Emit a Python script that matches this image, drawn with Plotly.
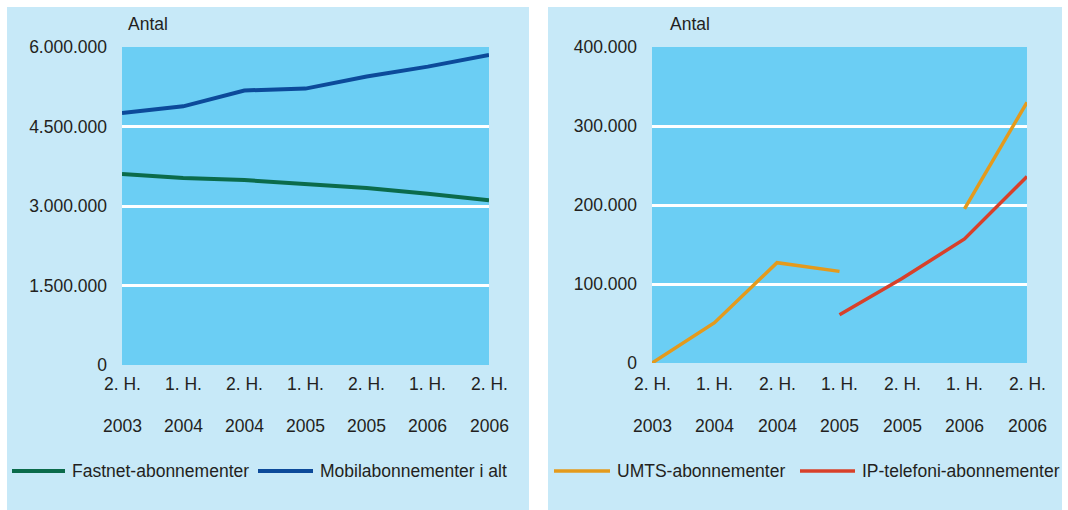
import plotly.graph_objects as go

W, H = 1068, 510

categories = ["2. H. 2003", "1. H. 2004", "2. H. 2004", "1. H. 2005", "2. H. 2005", "1. H. 2006", "2. H. 2006"]
half_labels = ["2. H.", "1. H.", "2. H.", "1. H.", "2. H.", "1. H.", "2. H."]
year_labels = ["2003", "2004", "2004", "2005", "2005", "2006", "2006"]

fastnet = [3604000, 3530000, 3490000, 3415000, 3340000, 3230000, 3110000]
mobil = [4755000, 4880000, 5180000, 5215000, 5445000, 5630000, 5850000]
umts = [0, 51000, 127000, 116000, None, 195000, 330000]
ip_tel = [None, None, None, 61000, 107000, 157000, 236000]

left_ticks = [0, 1500000, 3000000, 4500000, 6000000]
left_ticktext = ["0", "1.500.000", "3.000.000", "4.500.000", "6.000.000"]
right_ticks = [0, 100000, 200000, 300000, 400000]
right_ticktext = ["0", "100.000", "200.000", "300.000", "400.000"]

C_FAST = "#0B6B4B"
C_MOB = "#0C4A9A"
C_UMTS = "#E49A1C"
C_IP = "#D8402A"
PANEL = "#C7E9F8"
PLOTBG = "#6BCEF4"
TXT = "#231F20"
FONT = "Liberation Sans"
FS = 17.5

xs = list(range(len(categories)))

def px_x(p):
    return p / W

def px_y(p):
    return 1 - p / H

fig = go.Figure()
fig.add_trace(go.Scatter(x=xs, y=fastnet, mode="lines", name="Fastnet-abonnementer",
                         line=dict(color=C_FAST, width=4), xaxis="x", yaxis="y"))
fig.add_trace(go.Scatter(x=xs, y=mobil, mode="lines", name="Mobilabonnementer i alt",
                         line=dict(color=C_MOB, width=4), xaxis="x", yaxis="y"))
fig.add_trace(go.Scatter(x=xs, y=umts, mode="lines", name="UMTS-abonnementer",
                         line=dict(color=C_UMTS, width=3.5), connectgaps=False, xaxis="x2", yaxis="y2"))
fig.add_trace(go.Scatter(x=xs, y=ip_tel, mode="lines", name="IP-telefoni-abonnementer",
                         line=dict(color=C_IP, width=3.5), connectgaps=False, xaxis="x2", yaxis="y2"))

ax_common = dict(showline=False, zeroline=False, fixedrange=True, automargin=False)

fig.update_layout(
    width=W, height=H,
    margin=dict(l=0, r=0, t=0, b=0, pad=0, autoexpand=False),
    paper_bgcolor=PANEL,
    plot_bgcolor=PLOTBG,
    showlegend=False,
    font=dict(family=FONT, size=FS, color=TXT),
    xaxis=dict(domain=[px_x(122), px_x(489)], range=[0, 6], showgrid=False,
               showticklabels=False, anchor="y", **ax_common),
    yaxis=dict(domain=[px_y(365), px_y(47)], range=[0, 6000000], tickvals=left_ticks,
               ticktext=left_ticktext, showgrid=True, gridcolor="white", gridwidth=2.5,
               ticklabelstandoff=14, anchor="x", tickfont=dict(size=FS, color=TXT), **ax_common),
    xaxis2=dict(domain=[px_x(652), px_x(1027)], range=[0, 6], showgrid=False,
                showticklabels=False, anchor="y2", **ax_common),
    yaxis2=dict(domain=[px_y(363), px_y(47)], range=[0, 400000], tickvals=right_ticks,
                ticktext=right_ticktext, showgrid=True, gridcolor="white", gridwidth=2.5,
                ticklabelstandoff=14, anchor="x2", tickfont=dict(size=FS, color=TXT), **ax_common),
)

# white gutters around / between the two light-blue panels
white = dict(type="rect", xref="paper", yref="paper", fillcolor="white", line=dict(width=0), layer="below")
shapes = [
    dict(white, x0=0, x1=1, y0=px_y(7), y1=1),
    dict(white, x0=0, x1=px_x(7), y0=0, y1=1),
    dict(white, x0=px_x(529), x1=px_x(548), y0=0, y1=1),
    dict(white, x0=px_x(1062), x1=1, y0=0, y1=1),
]

annotations = []
for xa in ["x", "x2"]:
    for i, (h, yl) in enumerate(zip(half_labels, year_labels)):
        annotations.append(dict(x=i, xref=xa, y=px_y(384), yref="paper", text=h, showarrow=False,
                                xanchor="center", yanchor="middle", font=dict(size=FS, color=TXT)))
        annotations.append(dict(x=i, xref=xa, y=px_y(426), yref="paper", text=yl, showarrow=False,
                                xanchor="center", yanchor="middle", font=dict(size=FS, color=TXT)))

annotations.append(dict(x=px_x(126), y=px_y(24), xref="paper", yref="paper", text="Antal", showarrow=False,
                        xanchor="left", yanchor="middle", font=dict(size=FS, color=TXT)))
annotations.append(dict(x=px_x(668), y=px_y(24), xref="paper", yref="paper", text="Antal", showarrow=False,
                        xanchor="left", yanchor="middle", font=dict(size=FS, color=TXT)))

legend_items = [
    ("Fastnet-abonnementer", C_FAST, 12, 65, 4),
    ("Mobilabonnementer i alt", C_MOB, 258, 313, 4),
    ("UMTS-abonnementer", C_UMTS, 554, 610, 3.5),
    ("IP-telefoni-abonnementer", C_IP, 800, 855, 3.5),
]
for name, col, x0, x1, w in legend_items:
    shapes.append(dict(type="line", xref="paper", yref="paper", x0=px_x(x0), x1=px_x(x1),
                       y0=px_y(471), y1=px_y(471), line=dict(color=col, width=w)))
    annotations.append(dict(x=px_x(x1 + 5), y=px_y(471), xref="paper", yref="paper", text=name,
                            showarrow=False, xanchor="left", yanchor="middle",
                            font=dict(size=FS, color=TXT)))

fig.update_layout(shapes=shapes, annotations=annotations)

post = ("var gd=document.getElementById('{plot_id}');"
        "document.body.style.margin='0';document.body.style.overflow='hidden';"
        "gd.style.position='fixed';gd.style.top='0';gd.style.left='0';")
fig.write_html("out.html", post_script=post, config={"displayModeBar": False})
